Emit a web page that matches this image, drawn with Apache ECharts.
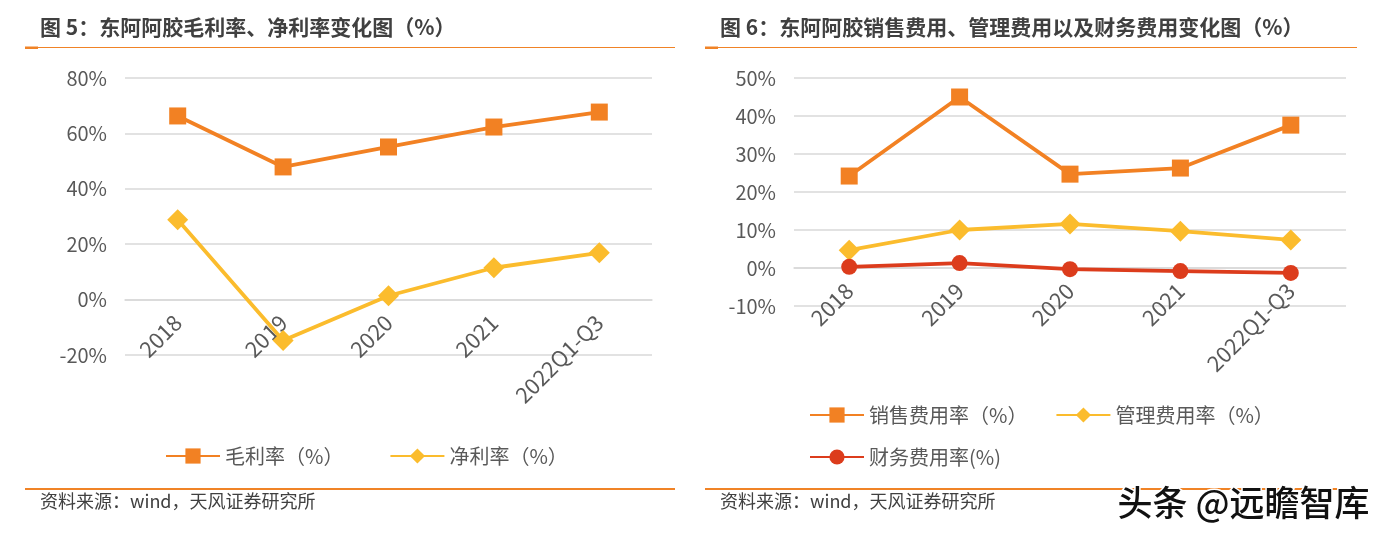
<!DOCTYPE html>
<html><head><meta charset="utf-8">
<script src="https://cdn.jsdelivr.net/npm/echarts@6/dist/echarts.min.js"></script>
<style>html,body{margin:0;padding:0;background:#fff}#c{width:1389px;height:539px}</style>
</head><body><div id="c"></div>
<script>
const categories = ['2018','2019','2020','2021','2022Q1-Q3'];
const grossMargin = [66.3, 47.9, 55.1, 62.3, 67.7];
const netMargin = [28.8, -14.8, 1.4, 11.5, 16.9];
const sellingRate = [24.2, 45.0, 24.7, 26.3, 37.6];
const adminRate = [4.7, 10.0, 11.6, 9.7, 7.4];
const financeRate = [0.3, 1.3, -0.3, -0.8, -1.3];
const leftTicks = {min: -20, max: 80, interval: 20};
const rightTicks = {min: -10, max: 50, interval: 10};

const FONT = "'Noto Sans CJK SC', 'Noto Sans', sans-serif";
const ORANGE = '#F28123', YELLOW = '#FBBC2D', RED = '#DC3C1C', ACC = '#F08326';
const chart = echarts.init(document.getElementById('c'));

const grids = [
  {left: 125, right: 737, top: 78, bottom: 184},
  {left: 794, right: 43, top: 78, bottom: 233}
];
const ticksList = [leftTicks, rightTicks];
function zeroOffset(gi) {
  const g = grids[gi], t = ticksList[gi];
  const h = 539 - g.top - g.bottom;
  return -h * (0 - t.min) / (t.max - t.min);
}
function yAxis(gi, t) {
  return {type: 'value', gridIndex: gi, min: t.min, max: t.max, interval: t.interval,
    axisLabel: {formatter: '{value}%', color: '#595959', fontSize: 20, fontFamily: FONT, margin: 18},
    axisLine: {show: false}, axisTick: {show: false},
    splitLine: {lineStyle: {color: '#d9d9d9', width: 1.5}}};
}
function xAxis(gi) {
  return {type: 'category', gridIndex: gi, data: categories, boundaryGap: true,
    position: 'bottom', offset: zeroOffset(gi),
    axisLine: {show: true, onZero: false, lineStyle: {color: '#d9d9d9', width: 1.5}},
    axisTick: {show: false},
    axisLabel: {rotate: 45, color: '#595959', fontSize: 22, fontFamily: FONT, margin: 19, interval: 0}};
}
function line(name, data, gi, color, symbol, size) {
  return {name, type: 'line', data, xAxisIndex: gi, yAxisIndex: gi, symbol, symbolSize: size,
    lineStyle: {color, width: 3.8}, itemStyle: {color}, z: 3, animation: false};
}
const legendText = {color: '#595959', fontSize: 20, fontFamily: FONT};

chart.setOption({
  animation: false,
  grid: grids,
  xAxis: [xAxis(0), xAxis(1)],
  yAxis: [yAxis(0, leftTicks), yAxis(1, rightTicks)],
  legend: [
    {data: ['毛利率（%）', '净利率（%）'], left: 160, top: 441, itemWidth: 54, itemHeight: 19, itemGap: 46, textStyle: legendText},
    {data: ['销售费用率（%）', '管理费用率（%）'], left: 804, top: 400, itemWidth: 54, itemHeight: 19, itemGap: 28, textStyle: legendText},
    {data: ['财务费用率(%)'], left: 804, top: 442, itemWidth: 54, itemHeight: 19, textStyle: legendText}
  ],
  series: [
    line('毛利率（%）', grossMargin, 0, ORANGE, 'rect', 17),
    line('净利率（%）', netMargin, 0, YELLOW, 'diamond', 21),
    line('销售费用率（%）', sellingRate, 1, ORANGE, 'rect', 17),
    line('管理费用率（%）', adminRate, 1, YELLOW, 'diamond', 21),
    line('财务费用率(%)', financeRate, 1, RED, 'circle', 16)
  ],
  graphic: [
    {type: 'text', left: 40, top: 17, style: {text: '图 5：东阿阿胶毛利率、净利率变化图（%）', fill: '#404040', font: "bold 21px " + FONT}},
    {type: 'text', left: 720, top: 17, style: {text: '图 6：东阿阿胶销售费用、管理费用以及财务费用变化图（%）', fill: '#404040', font: "bold 21px " + FONT}},
    {type: 'rect', shape: {x: 25, y: 47, width: 650, height: 1}, style: {fill: ACC}},
    {type: 'rect', shape: {x: 25, y: 46.5, width: 13, height: 2.5}, style: {fill: ACC}},
    {type: 'rect', shape: {x: 705, y: 47, width: 652, height: 1}, style: {fill: ACC}},
    {type: 'rect', shape: {x: 705, y: 46.5, width: 13, height: 2.5}, style: {fill: ACC}},
    {type: 'rect', shape: {x: 25, y: 488, width: 650, height: 2}, style: {fill: ACC}},
    {type: 'rect', shape: {x: 705, y: 488, width: 652, height: 2}, style: {fill: ACC}},
    {type: 'text', left: 40, top: 492, style: {text: '资料来源：wind，天风证券研究所', fill: '#404040', font: "18px " + FONT}},
    {type: 'text', left: 720, top: 492, style: {text: '资料来源：wind，天风证券研究所', fill: '#404040', font: "18px " + FONT}},
    {type: 'text', left: 1116, top: 484, z: 10, style: {text: '头条 @远瞻智库', fill: '#111', font: "500 35px " + FONT, stroke: '#fff', lineWidth: 3}}
  ]
});
</script></body></html>
